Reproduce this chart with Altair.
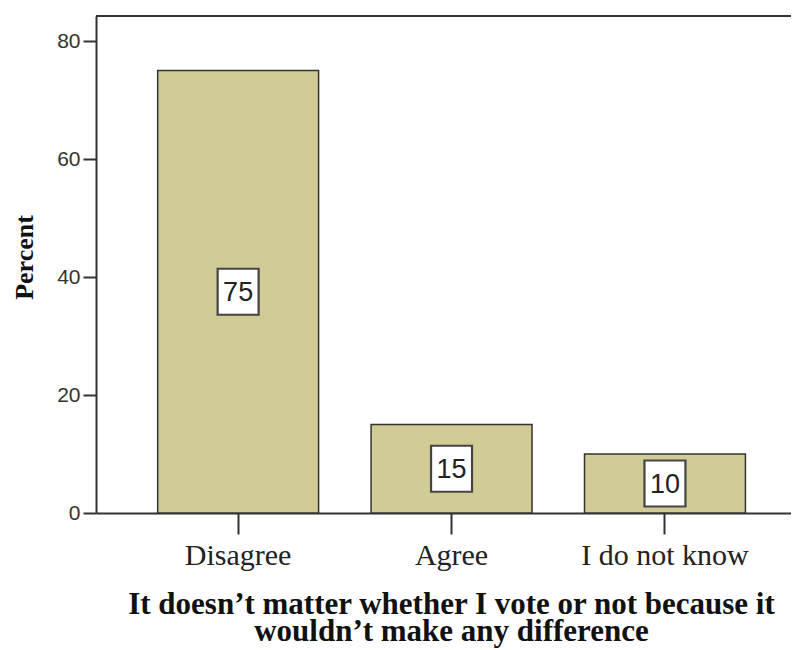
import altair as alt
import pandas as pd

categories = ["Disagree", "Agree", "I do not know"]
percents = [75, 15, 10]
label_texts = ["75", "15", "10"]

df = pd.DataFrame({"cat": categories, "pct": percents, "lab": label_texts})

W = 695
H = 497
YMAX = 84.24

x_enc = alt.X(
    "cat:N",
    sort=categories,
    scale=alt.Scale(paddingInner=0.246, paddingOuter=0.2513, align=0.575),
    axis=alt.Axis(
        title=["It doesn\u2019t matter whether I vote or not because it",
               "wouldn\u2019t make any difference"],
        titleFont="Liberation Serif", titleFontSize=31, titleFontWeight="bold",
        titleColor="#111", titleLineHeight=27, titleBaseline="alphabetic",
        titleX=355, titleY=100, titleAlign="center",
        labelFont="Liberation Serif", labelFontSize=30, labelColor="#222",
        labelAngle=0, labelPadding=6,
        tickSize=21, tickWidth=2, tickColor="#333",
        domainColor="#333", domainWidth=2,
    ),
)

y_scale = alt.Scale(domain=[0, YMAX], nice=False, zero=True)

bars = alt.Chart(df).mark_bar(
    color="#D1CC96", stroke="#333", strokeWidth=1.5
).encode(
    x=x_enc,
    y=alt.Y(
        "pct:Q", scale=y_scale,
        axis=alt.Axis(
            values=[0, 20, 40, 60, 80], grid=False,
            title="Percent", titleFont="Liberation Serif", titleFontSize=26,
            titleFontWeight="bold", titleColor="#111",
            titleX=-64, titleY=241, titleAngle=-90, titleBaseline="alphabetic",
            titleAlign="center",
            labelFont="Liberation Sans", labelFontSize=21, labelColor="#333",
            labelPadding=3, tickSize=13, tickWidth=2, tickColor="#333",
            domainColor="#333", domainWidth=2,
        ),
    ),
)

boxes = alt.Chart(df).transform_calculate(
    mid="datum.pct / 2"
).mark_point(
    shape="M-0.891,-1L0.891,-1L0.891,1L-0.891,1Z",
    size=2116, filled=True, fill="white", stroke="#444", strokeWidth=2.2,
    opacity=1,
).encode(
    x=alt.X("cat:N", sort=categories),
    y=alt.Y("mid:Q", scale=y_scale),
)

texts = alt.Chart(df).transform_calculate(
    mid="datum.pct / 2"
).mark_text(
    font="Liberation Sans", fontSize=27, color="#222", baseline="middle",
    align="center", dy=1,
).encode(
    x=alt.X("cat:N", sort=categories),
    y=alt.Y("mid:Q", scale=y_scale),
    text="lab:N",
)

top_rule = alt.Chart(df).mark_rule(color="#333", strokeWidth=2).encode(
    x=alt.value(0), x2=alt.value(W), y=alt.value(0)
)

chart = alt.layer(bars, boxes, texts, top_rule).properties(
    width=W, height=H,
    autosize=alt.AutoSizeParams(type="none"),
    padding={"left": 88, "top": 8, "right": 0, "bottom": 140},
).configure_view(strokeWidth=0)

chart.save("out.html", embed_options={"renderer": "svg", "actions": False})
